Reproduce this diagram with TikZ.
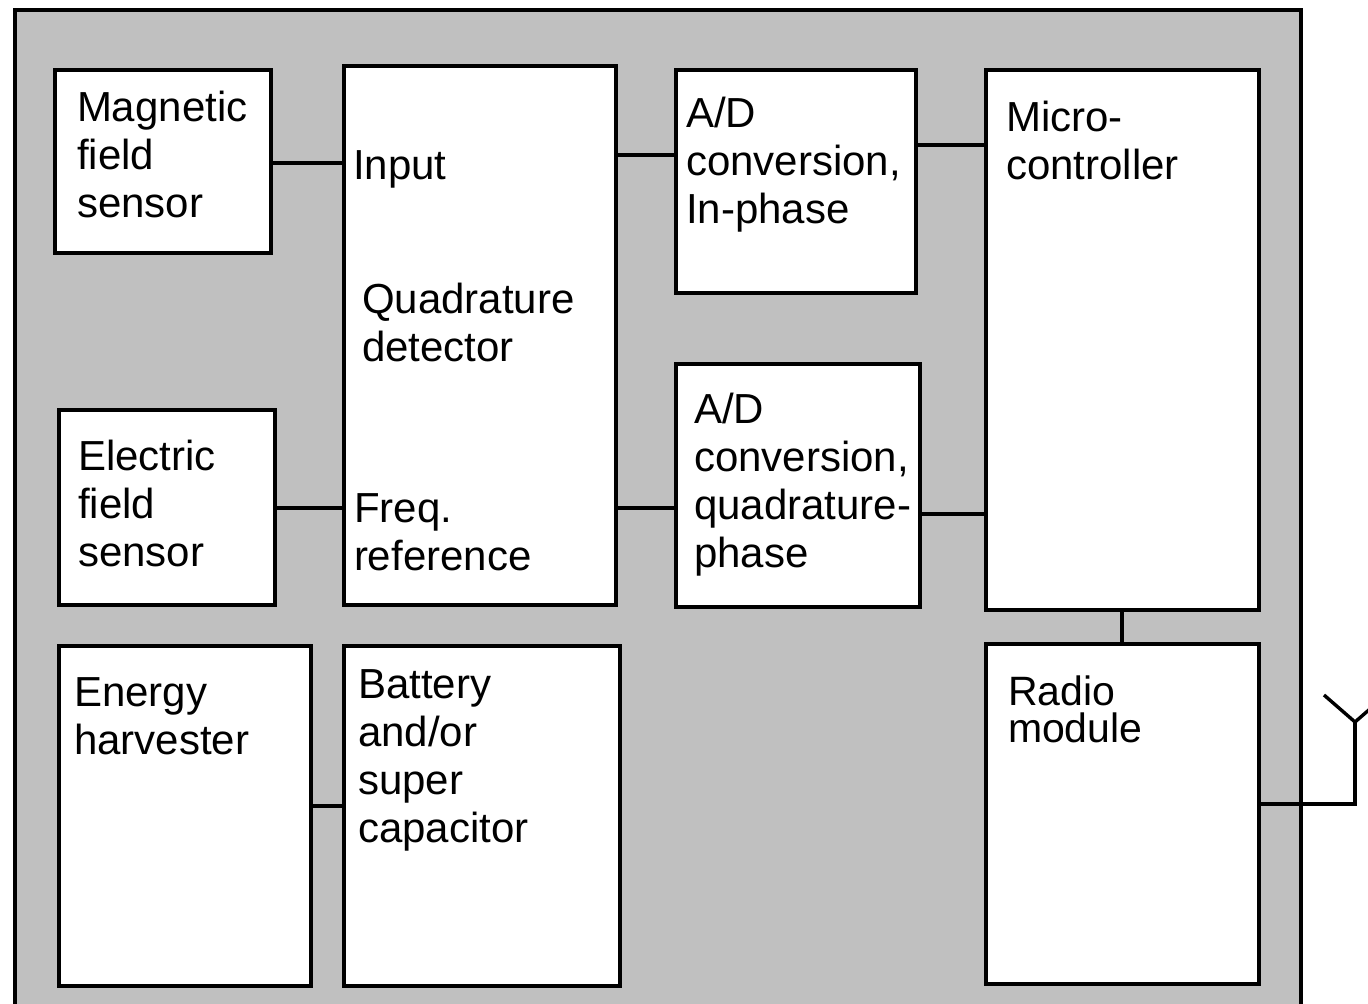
\documentclass[tikz,border=0pt]{standalone}
\usepackage{fontspec}
\setmainfont{Liberation Sans}
\usetikzlibrary{calc}
\definecolor{casegray}{HTML}{C0C0C0}
\tikzset{
  x=0.5pt, y=-0.5pt,
  blockbox/.style = {shape=rectangle, draw=black, fill=white, line width=1.7pt,
                     inner sep=0pt, outer sep=0pt, anchor=north west},
  blocktext/.style = {inner sep=0pt, outer sep=0pt, anchor=north west, align=left,
                     font=\fontsize{21pt}{24pt}\selectfont},
  wire/.style = {draw=black, line width=1.7pt}
}
\newcommand{\blockat}[6]{\node [blockbox, minimum width=#4*0.5pt-#2*0.5pt, minimum height=#5*0.5pt-#3*0.5pt] (#1) at (#2,#3) {#6};}
\begin{document}
\begin{tikzpicture}
\useasboundingbox (0,0) rectangle (1368,1004);
\begin{scope}
\clip (0,0) rectangle (1368,1004);
\draw [fill=casegray, line width=1.7pt] (15,10) rectangle (1301,1030);

\blockat{magnetic}{55}{70}{271}{253}{}
\blockat{detector}{344}{66}{616}{605}{}
\blockat{adinphase}{676}{70}{916}{293}{}
\blockat{adquad}{676}{364}{920}{607}{}
\blockat{micro}{986}{70}{1259}{610}{}
\blockat{electric}{59}{410}{275}{605}{}
\blockat{harvester}{59}{646}{311}{986}{}
\blockat{battery}{344}{646}{620}{986}{}
\blockat{radio}{986}{644}{1259}{984}{}

\node [blocktext] (magnetictext) at (77,91.5) {Magnetic\\field\\sensor};
\node [blocktext] (inputtext) at (353,150.5) {Input};
\node [blocktext] (detectortext) at (362,283.5) {Quadrature\\detector};
\node [blocktext] (freqtext) at (354,493.5) {Freq.\\reference};
\node [blocktext] (adinphasetext) at (686,97.5) {A/D\\conversion,\\In-phase};
\node [blocktext] (adquadtext) at (694,393.5) {A/D\\conversion,\\quadrature-\\phase};
\node [blocktext] (microtext) at (1006,101.5) {Micro-\\controller};
\node [blocktext] (electrictext) at (78,440.5) {Electric\\field\\sensor};
\node [blocktext] (harvestertext) at (74,677.5) {Energy\\harvester};
\node [blocktext] (batterytext) at (358,669.5) {Battery\\and/or\\super\\capacitor};
\node [blocktext, font=\fontsize{20.5pt}{18.5pt}\selectfont] (radiotext) at (1008,676) {Radio\\module};

\coordinate (antennafoot) at (1355,722);
\coordinate (antennaleft) at (1324,695);
\coordinate (antennaright) at (1386,695);

\draw [wire] ($(magnetic.north east)+(0,93)$) -- ($(detector.north west)+(0,97)$);
\draw [wire] ($(electric.north east)+(0,98)$) -- ($(detector.north west)+(0,442)$);
\draw [wire] ($(detector.north east)+(0,89)$) -- ($(adinphase.north west)+(0,85)$);
\draw [wire] ($(detector.north east)+(0,442)$) -- ($(adquad.north west)+(0,144)$);
\draw [wire] ($(adinphase.north east)+(0,75)$) -- ($(micro.north west)+(0,75)$);
\draw [wire] ($(adquad.north east)+(0,150)$) -- ($(micro.north west)+(0,444)$);
\draw [wire] ($(micro.south west)+(136,0)$) -- ($(radio.north west)+(136,0)$);
\draw [wire] ($(harvester.north east)+(0,160)$) -- ($(battery.north west)+(0,160)$);
\draw [wire] ($(radio.north east)+(0,160)$) -| (antennafoot);
\draw [wire] (antennaleft) -- (antennafoot) -- (antennaright);
\end{scope}
\end{tikzpicture}
\end{document}
